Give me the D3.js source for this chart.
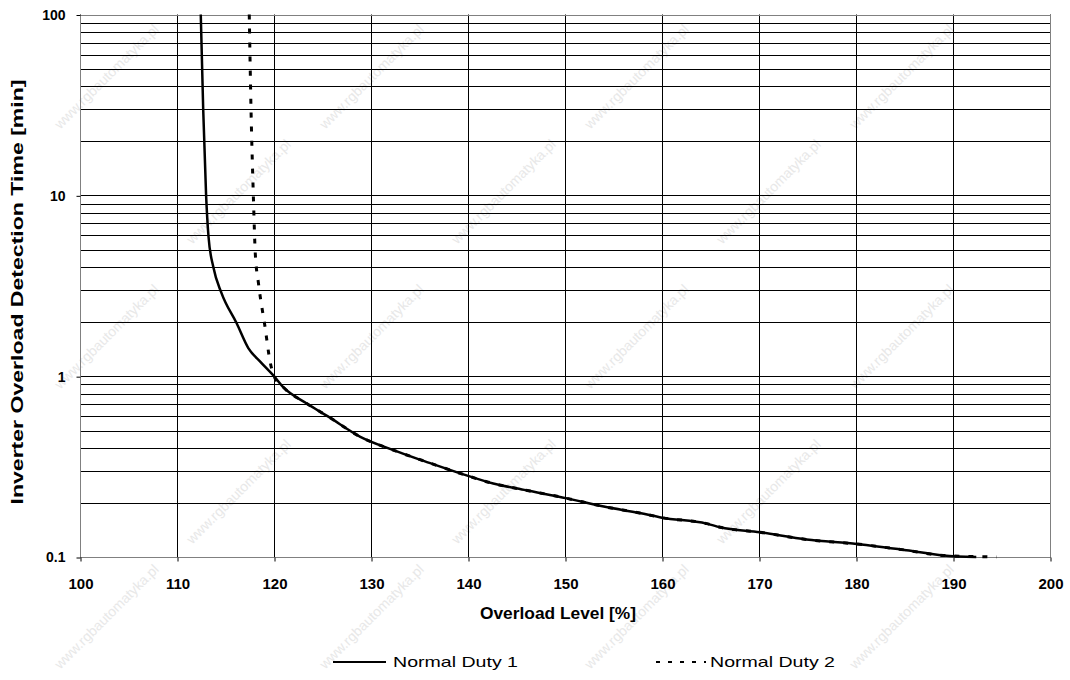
<!DOCTYPE html>
<html><head><meta charset="utf-8">
<script src="https://cdn.jsdelivr.net/npm/d3@7/dist/d3.min.js"></script>
<style>
html,body{margin:0;padding:0;background:#fff;}
svg{display:block;font-family:"Liberation Sans",Arial,sans-serif;}
</style></head>
<body>
<svg id="chart" width="1070" height="680"></svg>
<script>
// ---- data ----
const xTickValues = [100,110,120,130,140,150,160,170,180,190,200];
const yTickValues = [0.1, 1, 10, 100];
const yTickLabels = ["0.1", "1", "10", "100"];
const seriesNames = ["Normal Duty 1", "Normal Duty 2"];

const duty1X = [112.45,112.7,113.0,113.25,113.75,114.6,116.15,117.35,118.6,120.0,120.9,123.3,125.6,128.9,132.3,135.7,139.2,142.6,146.0,150.2,154.0,157.7,160.0,164.6,166.0,170.1,174.9,180.1,185.2,189.0,192.4];
const duty1Y = [100,30,10,5.9,4.0,2.87,1.96,1.43,1.2,1.0,0.875,0.71,0.597,0.462,0.39,0.336,0.29,0.255,0.234,0.211,0.19,0.175,0.165,0.153,0.146,0.137,0.125,0.118,0.109,0.102,0.1];

const duty2X = [117.45,117.63,117.87,118.07,118.4,119.07,119.6,120.0,120.9,123.3,125.6,128.9,132.3,135.7,139.2,142.6,146.0,150.2,154.0,157.7,160.0,164.6,166.0,170.1,174.9,180.1,185.2,189.0,192.4,194.5];
const duty2Y = [100,30,10,4.78,3.26,1.88,1.2,1.0,0.875,0.71,0.597,0.462,0.39,0.336,0.29,0.255,0.234,0.211,0.19,0.175,0.165,0.153,0.146,0.137,0.125,0.118,0.109,0.102,0.1005,0.1];

// ---- layout ----
const L = 80, R = 1050, T = 14.5, B = 557;
const svg = d3.select("#chart");
const x = d3.scaleLinear().domain([100,200]).range([L,R]);
const y = d3.scaleLog().domain([0.1,100]).range([B,T]);

// watermark
const wmRows = [80, 195, 340, 495, 620];
const wm = svg.append("g").attr("fill","#e8e8e8").attr("font-size",14);
wmRows.forEach((cy, r) => {
  for (let c = -1; c < 5; c++) {
    const cx = 110 + c*265 + (r%2)*132;
    if (cx < 55 || cx > 1015) continue;
    wm.append("text").attr("transform",`translate(${cx},${cy}) rotate(-45)`)
      .attr("text-anchor","middle").text("www.rgbautomatyka.pl");
  }
});

// horizontal grid (log minors)
const hGrid = [];
[0.1,1,10].forEach(d => { for (let k=1;k<=9;k++) hGrid.push(+(d*k).toPrecision(3)); });
hGrid.push(100);
svg.append("g").selectAll("line").data(hGrid).join("line")
  .attr("x1",L).attr("x2",R)
  .attr("y1",d=>Math.round(y(d))+0.5).attr("y2",d=>Math.round(y(d))+0.5)
  .attr("stroke","#000").attr("stroke-width",1);

// vertical grid
svg.append("g").selectAll("line").data(xTickValues).join("line")
  .attr("x1",d=>Math.round(x(d))+0.5).attr("x2",d=>Math.round(x(d))+0.5)
  .attr("y1",T).attr("y2",B)
  .attr("stroke","#000").attr("stroke-width",1);

// border
svg.append("rect").attr("x",L+0.5).attr("y",Math.round(T)+0.5)
  .attr("width",R-L).attr("height",Math.round(B)-Math.round(T))
  .attr("fill","none").attr("stroke","#808080").attr("stroke-width",1);

// axes
const xAxis = d3.axisBottom(x).tickValues(xTickValues).tickSize(4).tickFormat(d3.format("d"));
const gx = svg.append("g").attr("transform",`translate(0.5,${Math.round(B)+0.5})`).call(xAxis);
gx.select(".domain").remove();
gx.selectAll("text").attr("font-size",15).attr("font-weight","bold").attr("fill","#000")
  .attr("font-family","Liberation Sans, Arial, sans-serif").attr("y",31).attr("dy","0");

const yAxis = d3.axisLeft(y).tickValues(yTickValues).tickSize(4)
  .tickFormat(d=>yTickLabels[yTickValues.indexOf(d)]);
const gy = svg.append("g").attr("transform",`translate(${L+0.5},0.5)`).call(yAxis);
gy.select(".domain").remove();
gy.selectAll("text").attr("font-size",14).attr("font-weight","bold").attr("fill","#000")
  .attr("font-family","Liberation Sans, Arial, sans-serif").attr("x",-15);

// lines
const lineP = d3.line().x(d=>x(d[0])).y(d=>y(d[1])).curve(d3.curveMonotoneX);
const d1 = duty1X.map((v,i)=>[v,duty1Y[i]]);
const d2 = duty2X.map((v,i)=>[v,duty2Y[i]]);
svg.append("path").datum(d2).attr("d",lineP).attr("fill","none")
  .attr("stroke","#000").attr("stroke-width",3).attr("stroke-dasharray","5,9");
svg.append("path").datum(d1).attr("d",lineP).attr("fill","none")
  .attr("stroke","#000").attr("stroke-width",2.5).attr("stroke-linejoin","round");

// axis titles
svg.append("text").attr("x",558).attr("y",619).attr("text-anchor","middle")
  .attr("font-size",16).attr("font-weight","bold")
  .attr("textLength",156).attr("lengthAdjust","spacingAndGlyphs")
  .text("Overload Level [%]");
svg.append("text").attr("transform",`translate(23,292) rotate(-90)`)
  .attr("text-anchor","middle").attr("font-size",16).attr("font-weight","bold")
  .attr("textLength",425).attr("lengthAdjust","spacingAndGlyphs")
  .text("Inverter Overload Detection Time [min]");

// legend
const lg = svg.append("g");
lg.append("line").attr("x1",333).attr("x2",386).attr("y1",662).attr("y2",662)
  .attr("stroke","#000").attr("stroke-width",2);
lg.append("text").attr("x",393).attr("y",667).attr("font-size",15)
  .attr("textLength",125).attr("lengthAdjust","spacingAndGlyphs").text(seriesNames[0]);
lg.append("line").attr("x1",656).attr("x2",706).attr("y1",662).attr("y2",662)
  .attr("stroke","#000").attr("stroke-width",2).attr("stroke-dasharray","4,8");
lg.append("text").attr("x",710).attr("y",667).attr("font-size",15)
  .attr("textLength",125).attr("lengthAdjust","spacingAndGlyphs").text(seriesNames[1]);
</script>
</body></html>
